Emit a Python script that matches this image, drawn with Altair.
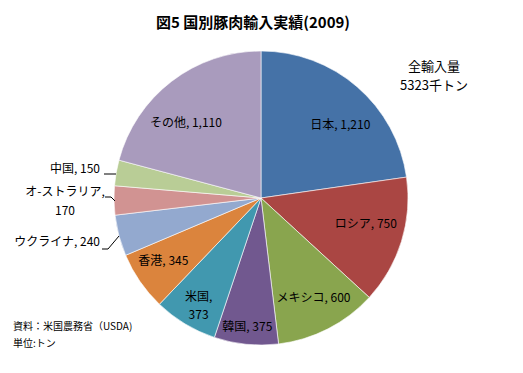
import math
import altair as alt
import pandas as pd

# ---- data ----
countries = ["日本", "ロシア", "メキシコ", "韓国", "米国", "香港",
             "ウクライナ", "オ-ストラリア", "中国", "その他"]
values = [1210, 750, 600, 375, 373, 345, 240, 170, 150, 1110]
colors = ["#4572A7", "#AA4643", "#89A54E", "#71588F", "#4198AF", "#DB843D",
          "#93A9CF", "#D19392", "#B9CD96", "#A99BBD"]

title_text = "図5  国別豚肉輸入実績(2009)"
total_lines = ["全輸入量", f"{sum(values)}千トン"]
source_lines = ["資料：米国農務省（USDA)", "単位:トン"]

# label text built from the data (line break for a few)
break_after_comma = {"米国", "オ-ストラリア"}
labels = []
for c, v in zip(countries, values):
    sep = ",\n" if c in break_after_comma else ", "
    labels.append(f"{c}{sep}{v:,}")

df = pd.DataFrame({
    "country": countries,
    "value": values,
    "order": list(range(len(countries))),
    "label": labels,
})

FONT = "Noto Sans CJK JP"
CX, CY, R = 253, 190, 147
W, H = 507, 357

pie = alt.Chart(df).mark_arc(outerRadius=R, stroke="white", strokeWidth=0.6).encode(
    theta=alt.Theta("value:Q", stack=True),
    order=alt.Order("order:Q"),
    color=alt.Color("country:N", scale=alt.Scale(domain=countries, range=colors), legend=None),
    x=alt.value(CX),
    y=alt.value(CY),
)

lab_base = alt.Chart(df).transform_window(
    cum="sum(value)", sort=[alt.SortField("order")], frame=[None, 0]
).transform_joinaggregate(
    total="sum(value)"
).transform_calculate(
    ang="2*PI*(datum.cum - datum.value/2)/datum.total"
)

# inner labels: polar position + small nudges (styling)
inner_nudge = {
    "日本": (4, 14), "ロシア": (-5, -8), "メキシコ": (0, -2), "韓国": (-2, 15),
    "米国": (-3, 1), "香港": (-3, -2), "その他": (-5, 16),
}
layers = [pie]
for name, (dx, dy) in inner_nudge.items():
    layers.append(
        lab_base.transform_filter(alt.datum.country == name).mark_text(
            font=FONT, fontSize=12, color="black", lineBreak="\n",
            align="center", baseline="middle", dx=dx, dy=dy, lineHeight=18,
        ).encode(
            theta=alt.Theta("ang:Q", scale=None, stack=False),
            radius=alt.value(115),
            x=alt.value(CX), y=alt.value(CY),
            text="label:N",
        )
    )

# outer labels with leader lines
outer = {
    "中国": dict(x=92, y=161, align="right"),
    "オ-ストラリア": dict(x=57, y=184, align="center"),
    "ウクライナ": dict(x=92, y=234, align="right"),
}
for name, p in outer.items():
    layers.append(
        alt.Chart(df).transform_filter(alt.datum.country == name).mark_text(
            font=FONT, fontSize=12, color="black", lineBreak="\n",
            align=p["align"], baseline="middle", lineHeight=19,
        ).encode(x=alt.value(p["x"]), y=alt.value(p["y"]), text="label:N")
    )

one = pd.DataFrame({"k": [0]})
leaders = [
    (96, 166, 108, 166),
    (97, 189, 103, 189), (103, 189, 107, 193),
    (94, 241, 100, 241), (100, 241, 111, 228),
]
for x1, y1, x2, y2 in leaders:
    layers.append(
        alt.Chart(one).mark_rule(color="black", strokeWidth=1).encode(
            x=alt.value(x1), x2=alt.value(x2), y=alt.value(y1), y2=alt.value(y2)
        )
    )

# title
layers.append(
    alt.Chart(one).mark_text(font=FONT, fontSize=15, fontWeight="bold", color="black",
                             align="center", baseline="middle").encode(
        x=alt.value(245), y=alt.value(15), text=alt.value(title_text))
)
# total annotation
for i, t in enumerate(total_lines):
    layers.append(
        alt.Chart(one).mark_text(font=FONT, fontSize=13, color="black",
                                 align="center", baseline="middle").encode(
            x=alt.value(426), y=alt.value(59 + i * 19), text=alt.value(t))
    )
# source
for i, t in enumerate(source_lines):
    layers.append(
        alt.Chart(one).mark_text(font=FONT, fontSize=10, color="black",
                                 align="left", baseline="middle").encode(
            x=alt.value(5), y=alt.value(319 + i * 17), text=alt.value(t))
    )

chart = alt.layer(*layers).properties(
    width=W, height=H, padding=0,
    autosize=alt.AutoSizeParams(type="none"),
).configure_view(stroke=None)

chart.save("out.html", embed_options={"renderer": "svg", "actions": False})
